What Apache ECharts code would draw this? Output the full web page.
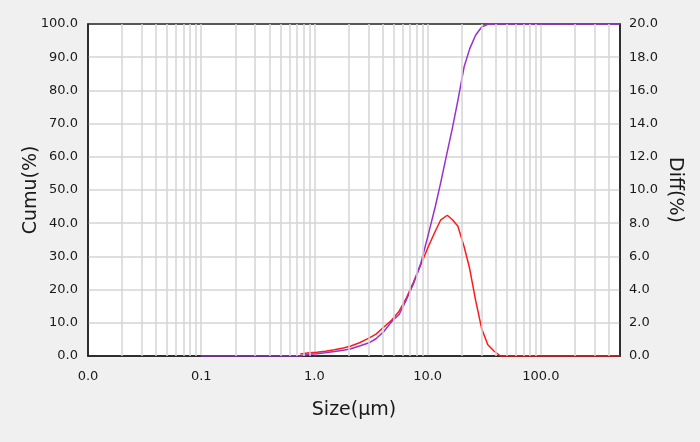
<!DOCTYPE html>
<html><head><meta charset="utf-8">
<script src="https://cdn.jsdelivr.net/npm/echarts@6/dist/echarts.min.js"></script>
<style>html,body{margin:0;padding:0;background:#f0f0f0;}#c{width:700px;height:442px;}</style>
</head><body><div id="c"></div>
<script>
// Particle size (µm)
const sizes = [0.1, 0.2, 0.3, 0.4, 0.5, 0.6, 0.75, 0.9, 1.05, 1.25, 1.5, 1.8, 2.1, 2.5, 3.0, 3.5, 4.1, 4.8, 5.6, 6.5, 7.5, 8.7, 10.1, 11.7, 13.0, 14.9, 16.5, 18.5, 21, 23.5, 26.5, 30, 34, 38.5, 44, 50, 100, 200, 500];
// Cumulative (%) – left axis
const cumu = [0, 0, 0, 0, 0, 0, 0, 0.5, 0.7, 1.0, 1.35, 1.75, 2.2, 3.0, 3.9, 5.2, 7.4, 10.3, 12.5, 17.0, 21.8, 27.9, 36.4, 45.1, 52.0, 61.5, 68.5, 77.0, 87.1, 92.5, 96.6, 99.1, 99.9, 100, 100, 100, 100, 100, 100];
// Differential (%) – right axis (null = not drawn)
const diff = [null, null, null, null, null, null, 0.12, 0.19, 0.23, 0.29, 0.38, 0.48, 0.6, 0.8, 1.06, 1.32, 1.75, 2.15, 2.7, 3.5, 4.45, 5.5, 6.57, 7.53, 8.18, 8.48, 8.22, 7.82, 6.58, 5.27, 3.37, 1.65, 0.68, 0.3, 0, 0, 0, 0, 0];
// Minor log grid positions
const minorGrid = [0.02,0.03,0.04,0.05,0.06,0.07,0.08,0.09, 0.2,0.3,0.4,0.5,0.6,0.7,0.8,0.9, 2,3,4,5,6,7,8,9, 20,30,40,50,60,70,80,90, 200,300,400];

const font = 'DejaVu Sans';
const txt = '#1a1a1a';
const gridColor = '#d4d4d4';
const fmt = v => Number(v).toFixed(1);

const cumuData = sizes.map((s, i) => [s, cumu[i]]);
const diffData = [];
sizes.forEach((s, i) => { if (diff[i] !== null) diffData.push([s, diff[i]]); });

const chart = echarts.init(document.getElementById('c'), null, {renderer: 'canvas'});
chart.setOption({
  animation: false,
  backgroundColor: '#f0f0f0',
  grid: {left: 88, right: 80, top: 24, bottom: 86, show: true, backgroundColor: '#ffffff', borderColor: '#222', borderWidth: 1.5},
  xAxis: {
    type: 'log', logBase: 10, min: 0.01, max: 500,
    name: 'Size(µm)', nameLocation: 'middle', nameGap: 45,
    nameTextStyle: {fontFamily: font, fontSize: 19, color: txt},
    axisLine: {show: true, lineStyle: {color: '#222', width: 1.5}},
    axisTick: {show: false},
    axisLabel: {formatter: fmt, fontFamily: font, fontSize: 13, color: txt, margin: 14, showMaxLabel: false},
    splitLine: {show: true, showMinLine: false, showMaxLine: false, lineStyle: {color: gridColor, width: 1.5}}
  },
  yAxis: [{
    type: 'value', min: 0, max: 100, interval: 10, position: 'left',
    name: 'Cumu(%)', nameLocation: 'middle', nameGap: 47, nameMoveOverlap: false,
    nameTextStyle: {fontFamily: font, fontSize: 19, color: txt},
    axisLine: {show: true, lineStyle: {color: '#222', width: 1.5}},
    axisTick: {show: false},
    axisLabel: {formatter: fmt, fontFamily: font, fontSize: 13, color: txt, margin: 10},
    splitLine: {show: true, showMinLine: false, showMaxLine: false, lineStyle: {color: gridColor, width: 1.5}}
  }, {
    type: 'value', min: 0, max: 20, interval: 2, position: 'right',
    name: 'Diff(%)', nameLocation: 'middle', nameGap: 45, nameRotate: -90, nameMoveOverlap: false,
    nameTextStyle: {fontFamily: font, fontSize: 19, color: txt},
    axisLine: {show: true, lineStyle: {color: '#222', width: 1.5}},
    axisTick: {show: false},
    axisLabel: {formatter: fmt, fontFamily: font, fontSize: 13, color: txt, margin: 9},
    splitLine: {show: false}
  }],
  series: [{
    type: 'line', data: [], z: 1, silent: true,
    markLine: {
      silent: true, symbol: ['none', 'none'], label: {show: false}, animation: false,
      lineStyle: {color: gridColor, width: 1.5, type: 'solid'},
      emphasis: {disabled: true},
      data: minorGrid.map(v => ({xAxis: v}))
    }
  }, {
    name: 'Diff', type: 'line', yAxisIndex: 1, data: diffData, z: 3,
    showSymbol: false, smooth: false,
    lineStyle: {color: '#ff1a1a', width: 1.5}
  }, {
    name: 'Cumu', type: 'line', yAxisIndex: 0, data: cumuData, z: 4,
    showSymbol: false, smooth: false,
    lineStyle: {color: '#9932cc', width: 1.5}
  }]
});
</script>
</body></html>
